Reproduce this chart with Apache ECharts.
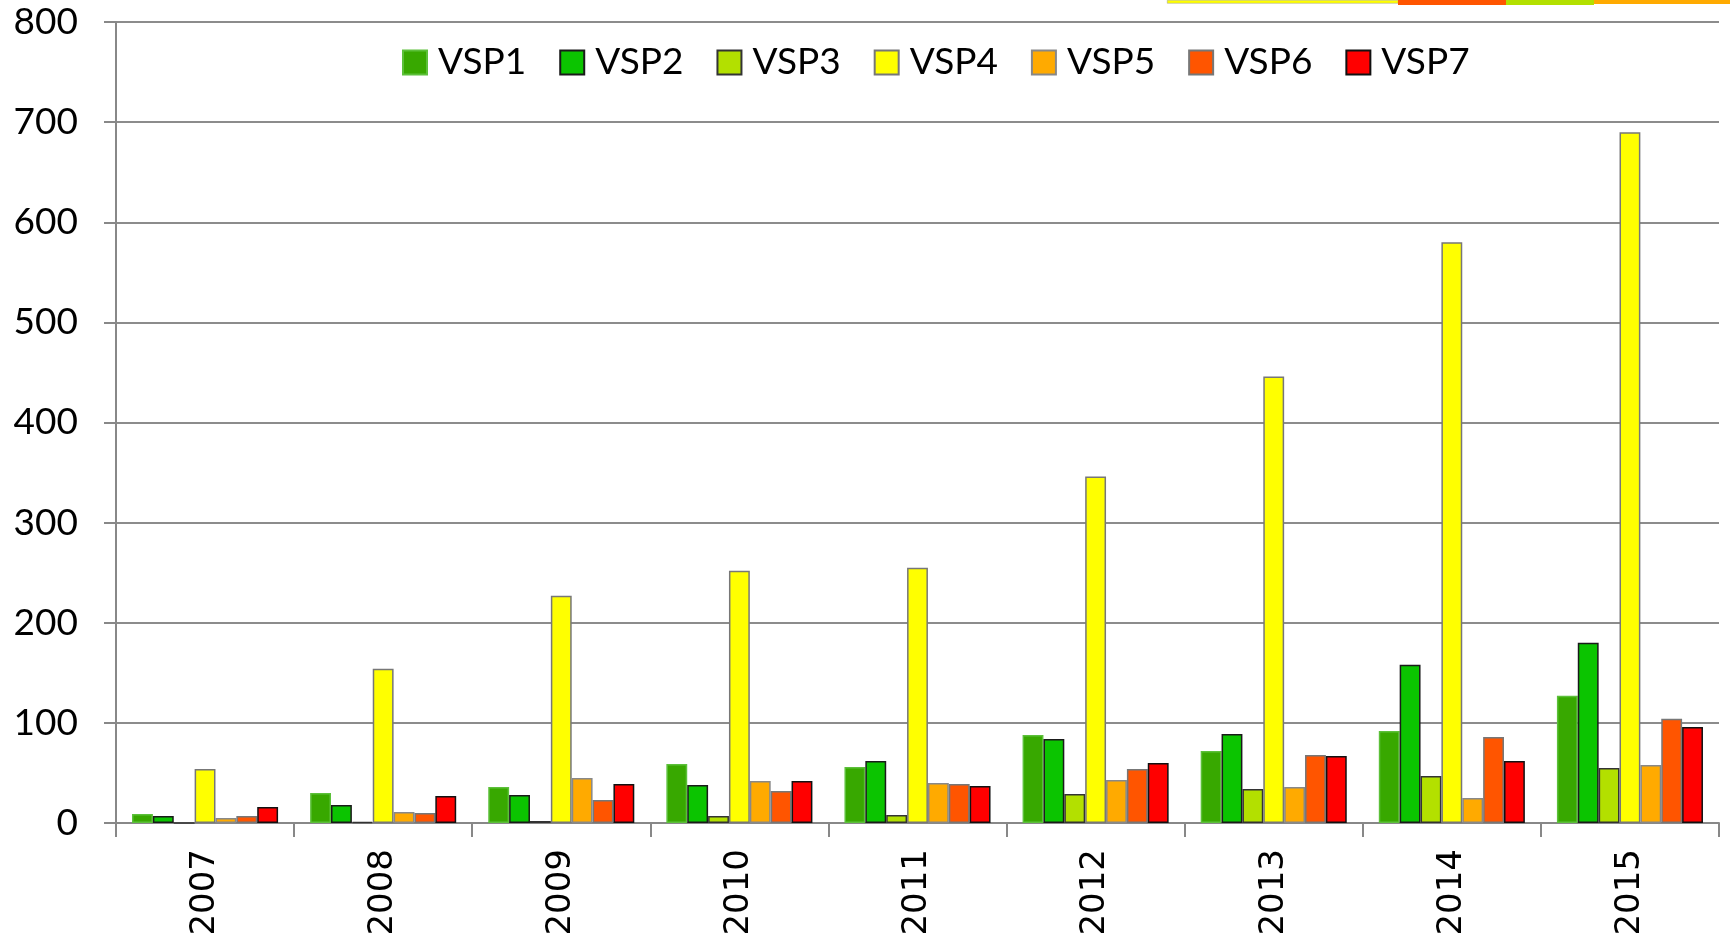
<!DOCTYPE html>
<html>
<head>
<meta charset="utf-8">
<script src="https://cdn.jsdelivr.net/npm/echarts@6/dist/echarts.min.js"></script>
<style>
html,body{margin:0;padding:0;background:#fff;}
#chart{width:1730px;height:940px;}
</style>
</head>
<body>
<div id="chart"></div>
<script>
const years = ['2007','2008','2009','2010','2011','2012','2013','2014','2015'];
const seriesNames = ['VSP1','VSP2','VSP3','VSP4','VSP5','VSP6','VSP7'];
const vsp1 = [9, 30, 36, 59, 56, 88, 72, 92, 127];
const vsp2 = [7, 18, 28, 38, 62, 84, 89, 158, 180];
const vsp3 = [0, 1, 2, 7, 8, 29, 34, 47, 55];
const vsp4 = [54, 154, 227, 252, 255, 346, 446, 580, 690];
const vsp5 = [5, 11, 45, 42, 40, 43, 36, 25, 58];
const vsp6 = [7, 10, 23, 32, 39, 54, 68, 86, 104];
const vsp7 = [16, 27, 39, 42, 37, 60, 67, 62, 96];
const yTicks = [0, 100, 200, 300, 400, 500, 600, 700, 800];

const allValues = [vsp1, vsp2, vsp3, vsp4, vsp5, vsp6, vsp7];
const fills = ['#38A800', '#0BC400', '#B3E000', '#FFFF00', '#FFAA00', '#FF5500', '#FF0000'];
const borders = ['#5CC03A', '#1A1A1A', '#333333', '#777777', '#888888', '#777777', '#111111'];

const chart = echarts.init(document.getElementById('chart'));
const option = {
  animation: false,
  backgroundColor: '#ffffff',
  legend: {
    data: seriesNames,
    left: 397,
    top: 39,
    itemWidth: 24,
    itemHeight: 24,
    itemGap: 33,
    icon: 'rect',
    textStyle: { fontFamily: 'Lato', fontSize: 37, color: '#000', padding: [0,0,0,6] }
  },
  grid: { left: 116, right: 11, top: 22, bottom: 117, containLabel: false },
  xAxis: {
    type: 'category',
    data: years,
    axisLine: { lineStyle: { color: '#888', width: 2 } },
    axisTick: { show: true, length: 14, lineStyle: { color: '#888', width: 2 } },
    axisLabel: { rotate: 90, margin: 26, fontFamily: '"DejaVu Sans", Verdana, sans-serif', fontSize: 34, color: '#000' }
  },
  yAxis: {
    type: 'value',
    min: yTicks[0],
    max: yTicks[yTicks.length - 1],
    interval: yTicks[1] - yTicks[0],
    axisLine: { show: true, lineStyle: { color: '#888', width: 2 } },
    axisTick: { show: true, length: 12, lineStyle: { color: '#888', width: 2 } },
    splitLine: { show: true, lineStyle: { color: '#8c8c8c', width: 2 } },
    axisLabel: { margin: 38, fontFamily: 'Lato', fontSize: 37, color: '#000' }
  },
  graphic: [
    { type: 'rect', left: 1167, top: 0, shape: { width: 231, height: 3 }, style: { fill: '#FFFF00', stroke: '#999', lineWidth: 0.5 } },
    { type: 'rect', left: 1398, top: 0, shape: { width: 108, height: 5 }, style: { fill: '#FF5500' } },
    { type: 'rect', left: 1506, top: 0, shape: { width: 88, height: 5 }, style: { fill: '#B3E000' } },
    { type: 'rect', left: 1594, top: 0, shape: { width: 136, height: 4 }, style: { fill: '#FFAA00' } }
  ],
  series: seriesNames.map((name, i) => ({
    name: name,
    type: 'bar',
    data: allValues[i],
    barGap: '0%',
    barCategoryGap: '18%',
    itemStyle: { color: fills[i], borderColor: borders[i], borderWidth: 1.5 }
  }))
};
chart.setOption(option);
</script>
</body>
</html>
